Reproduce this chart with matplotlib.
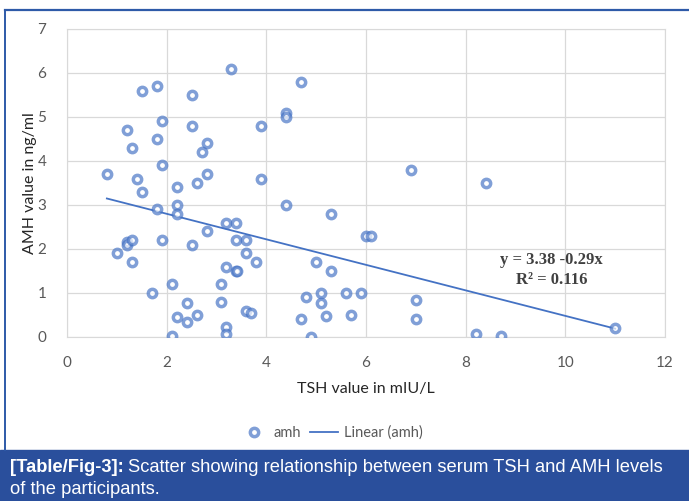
import numpy as np
import matplotlib.pyplot as plt
from matplotlib.lines import Line2D
from matplotlib.patches import Rectangle

# --- data ---
tsh = [3.3, 4.7, 1.5, 1.8, 2.5, 4.4, 4.4, 1.2, 1.9, 2.5, 3.9, 1.8, 1.3, 2.8, 2.7,
       1.9, 0.8, 1.4, 1.5, 2.2, 2.6, 2.8, 3.9, 4.4, 1.8, 2.2, 2.2, 3.2, 3.4, 2.8,
       1.2, 1.2, 1.3, 1.9, 2.5, 3.4, 3.6, 1.0, 1.3, 3.6, 3.8, 3.2, 3.4, 3.42, 5.0,
       2.1, 1.7, 3.1, 3.1, 2.4, 2.2, 2.4, 2.6, 3.2, 3.2, 2.1, 3.6, 3.7, 4.8, 4.7,
       4.9, 6.9, 8.4, 5.3, 6.0, 6.1, 5.3, 5.1, 5.1, 5.6, 5.9, 7.0, 7.0, 5.2, 5.7,
       8.2, 8.7, 11.0]
amh = [6.1, 5.8, 5.6, 5.7, 5.5, 5.08, 5.0, 4.7, 4.9, 4.8, 4.8, 4.5, 4.3, 4.4, 4.2,
       3.9, 3.7, 3.6, 3.3, 3.4, 3.5, 3.7, 3.6, 3.0, 2.9, 3.0, 2.8, 2.6, 2.6, 2.4,
       2.17, 2.09, 2.2, 2.2, 2.1, 2.2, 2.2, 1.9, 1.7, 1.9, 1.7, 1.6, 1.5, 1.5, 1.7,
       1.2, 1.0, 1.2, 0.8, 0.77, 0.45, 0.35, 0.5, 0.23, 0.07, 0.02, 0.6, 0.55, 0.92, 0.4,
       0.0, 3.8, 3.5, 2.8, 2.3, 2.3, 1.5, 1.0, 0.78, 1.0, 1.0, 0.83, 0.4, 0.48, 0.5,
       0.06, 0.03, 0.2]
intercept, slope = 3.38, -0.29
r2 = 0.116

BLUE = '#4472C4'
GREY_TXT = '#595959'
BAND = '#2A4F9C'

fig = plt.figure(figsize=(6.89, 5.01), dpi=100)
ax = fig.add_axes([67/689, 1 - 337/501, (665 - 67)/689, (337 - 29)/501])

ax.plot(tsh, amh, 'o', ls='none', ms=6, mew=2.5, mfc='white',
        mec=BLUE, alpha=0.68, label='amh', zorder=3)

x_fit = np.array([min(tsh), max(tsh)])
ax.plot(x_fit, intercept + slope * x_fit, color=BLUE, lw=1.3,
        label='Linear (amh)', zorder=2)

ax.set_xlim(0, 12)
ax.set_ylim(0, 7)
ax.set_xticks(range(0, 13, 2))
ax.set_yticks(range(0, 8))
ax.grid(True, color='#D9D9D9', lw=0.9)
ax.set_axisbelow(True)
for s in ax.spines.values():
    s.set_color('#D9D9D9')
ax.tick_params(length=0, colors=GREY_TXT, labelsize=11, pad=14)
for lab in ax.get_xticklabels() + ax.get_yticklabels():
    lab.set_family('Lato')
ax.tick_params(axis='y', pad=15)

ax.set_xlabel('TSH value in mIU/L', family='Lato', fontsize=11.5,
              color='#262626', labelpad=8)
ax.set_ylabel('AMH value in ng/ml', family='Lato', fontsize=11.5,
              color='#262626', labelpad=0)

ax.text(9.72, 1.75, f'y = {intercept:.2f} {slope:.2f}x', family='Liberation Serif',
        fontweight='bold', fontsize=12, color='#404040', ha='center', va='center')
ax.text(9.72, 1.3, f'R² = {r2:.3f}', family='Liberation Serif',
        fontweight='bold', fontsize=12, color='#404040', ha='center', va='center')

leg = fig.legend(loc='center', bbox_to_anchor=(0.481, 1 - 433/501), ncol=2,
                 frameon=False, handlelength=1.9, handletextpad=0.4,
                 columnspacing=0.6, prop={'family': 'Lato', 'size': 10.5})
for t in leg.get_texts():
    t.set_color(GREY_TXT)

# frame lines and caption band
fig.add_artist(Line2D([5/689, 1], [1 - 10/501] * 2, color='#2E5AA8', lw=1.6))
fig.add_artist(Line2D([5/689] * 2, [51/501, 1 - 10/501], color='#2E5AA8', lw=1.4))
fig.add_artist(Rectangle((0, 0), 1, 51/501, color=BAND, transform=fig.transFigure))

cap_font = 'Liberation Sans'
bold = fig.text(10/689, 1 - 468/501, '[Table/Fig-3]:', color='white', fontweight='bold',
                family=cap_font, fontsize=13.2, va='center')
fig.canvas.draw()
bb = bold.get_window_extent()
fig.text((bb.x1 + 4)/689, 1 - 468/501,
         'Scatter showing relationship between serum TSH and AMH levels',
         color='white', family=cap_font, fontsize=13.2, va='center')
fig.text(10/689, 1 - 490/501, 'of the participants.', color='white',
         family=cap_font, fontsize=13.2, va='center')

fig.savefig('out.png', dpi=100)
